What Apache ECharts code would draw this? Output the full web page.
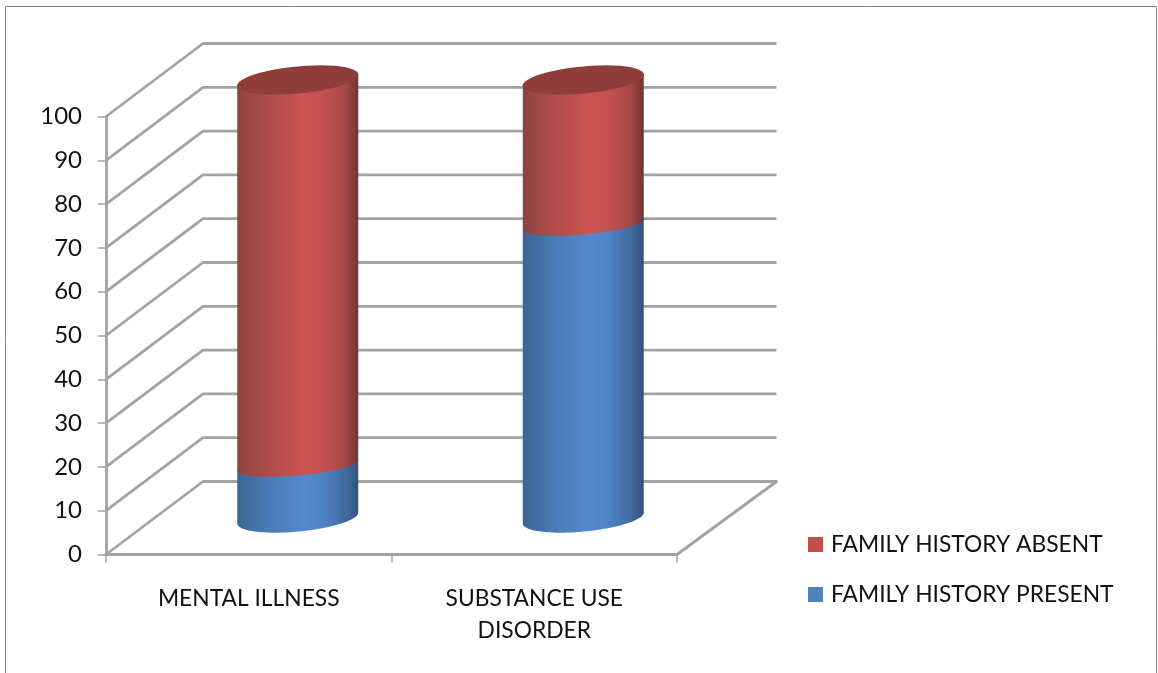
<!DOCTYPE html>
<html>
<head>
<meta charset="utf-8">
<style>html,body{margin:0;padding:0;background:#fff}#c{width:1158px;height:673px}</style>
<script src="https://cdn.jsdelivr.net/npm/echarts@6/dist/echarts.min.js"></script>
</head>
<body>
<div id="c"></div>
<script>
const categories = ['MENTAL ILLNESS', 'SUBSTANCE USE\nDISORDER'];
const familyHistoryPresent = [12, 67];
const familyHistoryAbsent = [88, 33];
const yTicks = [0, 10, 20, 30, 40, 50, 60, 70, 80, 90, 100];

const FONT = 'Lato';
const DEPTH_X = 97, DEPTH_Y = 73, RIGHT_EXTRA = 2.5;
const RX = 60.5, TILT = 5.5, RY_TOP = 13.6, RY_SEAM = 10;
const GRID_COLOR = '#a3a3a3';
const echart = echarts.init(document.getElementById('c'), null, {renderer: 'canvas'});

function shade(dark, mid, right) {
  return new echarts.graphic.LinearGradient(0, 0, 1, 0, [
    {offset: 0, color: dark}, {offset: 0.24, color: mid[0]}, {offset: 0.55, color: mid[1]},
    {offset: 0.72, color: mid[2]}, {offset: 0.9, color: mid[3]}, {offset: 1, color: right}
  ]);
}
const redFill = shade('#8a4342', ['#ad4c4b', '#cb5351', '#c45050', '#a34745'], '#6f3433');
const blueFill = shade('#3c6593', ['#4a79b4', '#5389cf', '#4f82c3', '#416a9e'], '#31537c');

function arc(cx, cy, ry, from, to) {
  const pts = [];
  for (let i = 0; i <= 48; i++) {
    const t = from + (to - from) * i / 48;
    pts.push([cx + RX * Math.cos(t), cy - TILT * Math.cos(t) + ry * Math.sin(t)]);
  }
  return pts;
}

function wallItem(params, api) {
  const cs = params.coordSys;
  const v = api.value(1);
  const y = api.coord([0, v])[1];
  const pts = [[cs.x, y], [cs.x + DEPTH_X, y - DEPTH_Y], [cs.x + cs.width + DEPTH_X + RIGHT_EXTRA, y - DEPTH_Y]];
  if (v === 0) pts.push([cs.x + cs.width, y]);
  return {
    type: 'polyline', shape: {points: pts},
    style: {stroke: GRID_COLOR, lineWidth: 2.8, fill: null, lineJoin: 'round'}
  };
}

function cylinderItem(fill, topFace) {
  return function (params, api) {
    const base = api.coord([api.value(0), api.value(1)]);
    const top = api.coord([api.value(0), api.value(2)]);
    const cx = base[0] + DEPTH_X / 2 + 0.5;
    const yb = base[1] - DEPTH_Y / 2;
    const yt = top[1] - DEPTH_Y / 2;
    const ryBottom = api.value(1) === 0 ? RY_TOP : RY_SEAM;
    const body = arc(cx, yb, ryBottom, Math.PI, 0).concat(arc(cx, yt, RY_SEAM, 0, -Math.PI));
    const children = [{type: 'polygon', shape: {points: body}, style: {fill: fill}}];
    if (topFace) {
      children.push({
        type: 'polygon',
        shape: {points: arc(cx, yt, RY_TOP, 0, Math.PI * 2)},
        style: {fill: topFace}
      });
    }
    return {type: 'group', children: children};
  };
}

const presentData = familyHistoryPresent.map((v, i) => [i, 0, v]);
const absentData = familyHistoryAbsent.map((v, i) => [i, familyHistoryPresent[i], familyHistoryPresent[i] + v]);

echart.setOption({
  animation: false,
  backgroundColor: '#fff',
  grid: {left: 106, right: 481, top: 116.5, bottom: 118.5, containLabel: false},
  xAxis: {
    type: 'category', data: categories,
    axisLine: {lineStyle: {color: GRID_COLOR, width: 2.8}},
    axisTick: {show: true, length: 8, alignWithLabel: false, lineStyle: {color: GRID_COLOR, width: 1.5}},
    axisLabel: {color: '#111', fontFamily: FONT, fontSize: 22.8, margin: 28, lineHeight: 32, interval: 0},
    splitLine: {show: false}
  },
  yAxis: {
    type: 'value', min: 0, max: 100, interval: 10,
    axisLine: {show: true, lineStyle: {color: GRID_COLOR, width: 2.8}},
    axisTick: {show: true, length: 8, lineStyle: {color: GRID_COLOR, width: 1.5}},
    axisLabel: {color: '#111', fontFamily: FONT, fontSize: 24, margin: 24},
    splitLine: {show: false}
  },
  legend: {
    orient: 'vertical', left: 803, top: 528, itemWidth: 15, itemHeight: 15, itemGap: 27, icon: 'rect',
    selectedMode: false,
    data: ['FAMILY HISTORY ABSENT', 'FAMILY HISTORY PRESENT'],
    textStyle: {color: '#111', fontFamily: FONT, fontSize: 22.8, padding: [0, 0, 0, 3], lineHeight: 22}
  },
  graphic: [{
    type: 'polyline', silent: true,
    shape: {points: [[5.5, 673], [5.5, 6.5], [1156.5, 6.5], [1156.5, 673]]},
    style: {stroke: '#868686', lineWidth: 1, fill: null}
  }],
  series: [
    {
      name: 'walls', type: 'custom', silent: true, z: 1,
      data: yTicks.map(v => [0, v]), renderItem: wallItem
    },
    {
      name: 'FAMILY HISTORY PRESENT', type: 'custom', z: 3,
      itemStyle: {color: '#4f81bd'},
      data: presentData, renderItem: cylinderItem(blueFill, null)
    },
    {
      name: 'FAMILY HISTORY ABSENT', type: 'custom', z: 4,
      itemStyle: {color: '#c0504d'},
      data: absentData, renderItem: cylinderItem(redFill, '#8e3d3b')
    }
  ]
});
</script>
</body>
</html>
